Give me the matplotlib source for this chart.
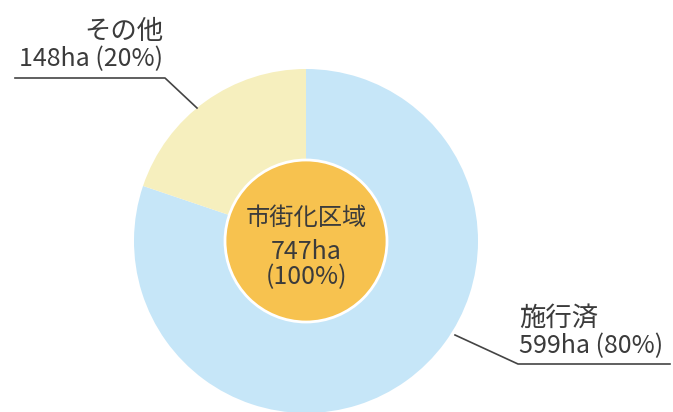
import matplotlib

matplotlib.use("Agg")
import matplotlib.pyplot as plt
from matplotlib.patches import Circle

plt.rcParams["font.family"] = ["Noto Sans CJK JP", "DejaVu Sans"]

# data
labels = ["施行済", "その他"]
areas = [599, 148]
shares = [80, 20]
total_label = "市街化区域"
total_area = 747
colors = ["#c6e6f8", "#f6efbe"]
TEXT = "#3b3b3b"

W, H = 673, 412
fig = plt.figure(figsize=(W / 100, H / 100), dpi=100)
ax = fig.add_axes([0, 0, 1, 1])

cx, cy = 306, H - 241
ax.pie(areas, colors=colors, startangle=90, counterclock=False,
       center=(cx, cy), radius=172, frame=True,
       wedgeprops=dict(linewidth=0))
ax.add_patch(Circle((cx, cy), 81, facecolor="#f7c24f", edgecolor="white",
                    linewidth=2, zorder=3))

ax.set_xlim(0, W)
ax.set_ylim(0, H)
ax.set_aspect("equal")
ax.axis("off")

# center text
ax.text(cx, H - 218, total_label, ha="center", va="center", fontsize=17.5,
        color=TEXT, zorder=4)
ax.text(cx, H - 252, f"{total_area}ha", ha="center", va="center",
        fontsize=18, color=TEXT, zorder=4)
ax.text(cx, H - 277, "(100%)", ha="center", va="center", fontsize=18,
        color=TEXT, zorder=4)

# その他 label (top left)
ax.plot([15, 165, 197], [H - 78, H - 78, H - 108], color="#444444", lw=1.2)
ax.text(163, H - 31, labels[1], ha="right", va="center", fontsize=19,
        color=TEXT)
ax.text(163, H - 59, f"{areas[1]}ha ({shares[1]}%)", ha="right", va="center",
        fontsize=18, color=TEXT)

# 施行済 label (bottom right)
ax.plot([455, 518, 670], [H - 335, H - 364, H - 364], color="#444444", lw=1.2)
ax.text(519, H - 318, labels[0], ha="left", va="center", fontsize=19,
        color=TEXT)
ax.text(519, H - 346, f"{areas[0]}ha ({shares[0]}%)", ha="left", va="center",
        fontsize=18, color=TEXT)

fig.savefig("out.png", dpi=100)
